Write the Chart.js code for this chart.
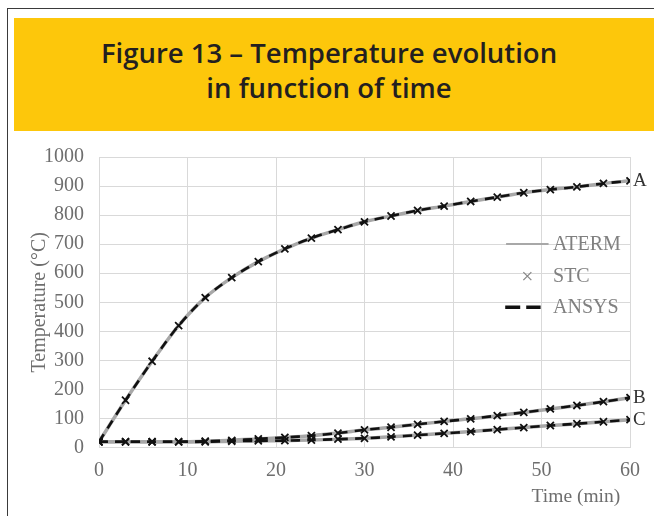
<!DOCTYPE html>
<html>
<head>
<meta charset="utf-8">
<script src="https://cdn.jsdelivr.net/npm/chart.js@4"></script>
<style>
  body { margin: 0; background: #fff; width: 654px; height: 516px; overflow: hidden; position: relative; }
  #frame { position: absolute; left: 7px; top: 8px; width: 700px; height: 600px; border: 1.5px solid #3a3a3a; }
  #head { position: absolute; left: 14px; top: 18px; width: 700px; height: 113px; background: #fdc70b; }
  #head div { position: absolute; left: 0; width: 630px; text-align: center; font-family: "Open Sans", sans-serif; font-weight: 600; font-size: 27.5px; color: #231f20; letter-spacing: 0px; }
  #wrap { position: absolute; left: 10px; top: 130px; width: 644px; height: 386px; }
</style>
</head>
<body>
<div id="frame"></div>
<div id="head">
  <div style="top: 16px;">Figure 13 – Temperature evolution</div>
  <div style="top: 51px;">in function of time</div>
</div>
<div id="wrap"><canvas id="chart"></canvas></div>
<script>
// time in minutes (STC points every 3 min)
const times = [0, 3, 6, 9, 12, 15, 18, 21, 24, 27, 30, 33, 36, 39, 42, 45, 48, 51, 54, 57, 60];

// curve A
const tempA = [20, 163, 297, 420, 516, 585, 640, 684, 721, 750, 777, 797, 816, 831, 847, 862, 877, 888, 897, 909, 918];
// curve B
const tempB = [20, 20, 20, 20, 22, 25, 30, 35, 41, 50, 61, 70, 80, 90, 99, 110, 121, 133, 145, 158, 172];
// curve C
const tempC = [20, 20, 20, 20, 20, 22, 23, 24, 26, 29, 32, 37, 43, 49, 55, 62, 69, 76, 82, 89, 96];

const curveNames = ["A", "B", "C"];
const xTicks = [0, 10, 20, 30, 40, 50, 60];

const pts = arr => arr.map((v, i) => ({ x: times[i], y: v }));
const curves = [tempA, tempB, tempC];

const datasets = [];
// STC markers (drawn on top)
curves.forEach(c => datasets.push({
  label: "STC", data: pts(c), showLine: false,
  pointStyle: "crossRot", pointRadius: 5, pointBorderWidth: 1.8,
  borderColor: "#111", backgroundColor: "#111"
}));
// ANSYS dashed
curves.forEach(c => datasets.push({
  label: "ANSYS", data: pts(c), borderColor: "#111", borderWidth: 2.6,
  borderDash: [9, 7], pointRadius: 0, tension: 0.3
}));
// ATERM solid gray
curves.forEach(c => datasets.push({
  label: "ATERM", data: pts(c), borderColor: "#a8a8a8", borderWidth: 3.5,
  pointRadius: 0, tension: 0.3
}));

const serif = "'Liberation Serif', 'Times New Roman', serif";

const extras = {
  id: "extras",
  afterDatasetsDraw(chart) {
    const ctx = chart.ctx;
    const xs = chart.scales.x, ys = chart.scales.y;
    ctx.save();
    ctx.font = "19px " + serif;
    ctx.fillStyle = "#333";
    ctx.textBaseline = "middle";
    ctx.textAlign = "left";
    // end labels
    curves.forEach((c, i) => {
      ctx.fillText(curveNames[i], xs.getPixelForValue(60) + 3, ys.getPixelForValue(c[c.length - 1]));
    });
    // legend
    const tx = xs.getPixelForValue(51.3);
    const rows = [ys.getPixelForValue(701), ys.getPixelForValue(590), ys.getPixelForValue(483)];
    ctx.fillStyle = "#808080";
    ctx.font = "20px " + serif;
    ctx.fillText("ATERM", tx, rows[0] + 1);
    ctx.fillText("STC", tx, rows[1] + 1);
    ctx.fillText("ANSYS", tx, rows[2] + 1);
    ctx.strokeStyle = "#a8a8a8"; ctx.lineWidth = 2;
    ctx.beginPath(); ctx.moveTo(xs.getPixelForValue(46), rows[0]); ctx.lineTo(xs.getPixelForValue(50.8), rows[0]); ctx.stroke();
    ctx.strokeStyle = "#888"; ctx.lineWidth = 1.3;
    const cx = xs.getPixelForValue(48.4), r = 4;
    ctx.beginPath();
    ctx.moveTo(cx - r, rows[1] - r); ctx.lineTo(cx + r, rows[1] + r);
    ctx.moveTo(cx + r, rows[1] - r); ctx.lineTo(cx - r, rows[1] + r);
    ctx.stroke();
    ctx.strokeStyle = "#111"; ctx.lineWidth = 3.4; ctx.setLineDash([15, 6]);
    ctx.beginPath(); ctx.moveTo(xs.getPixelForValue(45.9), rows[2]); ctx.lineTo(xs.getPixelForValue(49.9), rows[2]); ctx.stroke();
    ctx.restore();
  }
};

new Chart(document.getElementById("chart"), {
  type: "line",
  data: { datasets },
  plugins: [extras],
  options: {
    responsive: true,
    maintainAspectRatio: false,
    animation: false,
    layout: { padding: { top: 0, right: 24, left: 14, bottom: 3 } },
    plugins: { legend: { display: false }, tooltip: { enabled: false } },
    scales: {
      x: {
        type: "linear", min: 0, max: 60,
        afterBuildTicks: ax => { ax.ticks = xTicks.map(v => ({ value: v })); },
        grid: { color: "#d9d9d9", lineWidth: 1, drawTicks: false },
        border: { color: "#d9d9d9" },
        ticks: { color: "#6e6e6e", font: { family: serif, size: 20 }, padding: 11 },
        title: { display: true, text: "Time (min)  ", align: "end", color: "#6e6e6e", font: { family: serif, size: 19.5 }, padding: { top: -8 } }
      },
      y: {
        min: 0, max: 1000,
        grid: { color: "#d9d9d9", lineWidth: 1, drawTicks: false },
        border: { color: "#d9d9d9" },
        ticks: { stepSize: 100, color: "#6e6e6e", font: { family: serif, size: 20 }, padding: 15, callback: v => String(v) },
        title: { display: true, text: "Temperature (°C)", color: "#6e6e6e", font: { family: serif, size: 20 }, padding: { bottom: -23 } }
      }
    }
  }
});
</script>
</body>
</html>
